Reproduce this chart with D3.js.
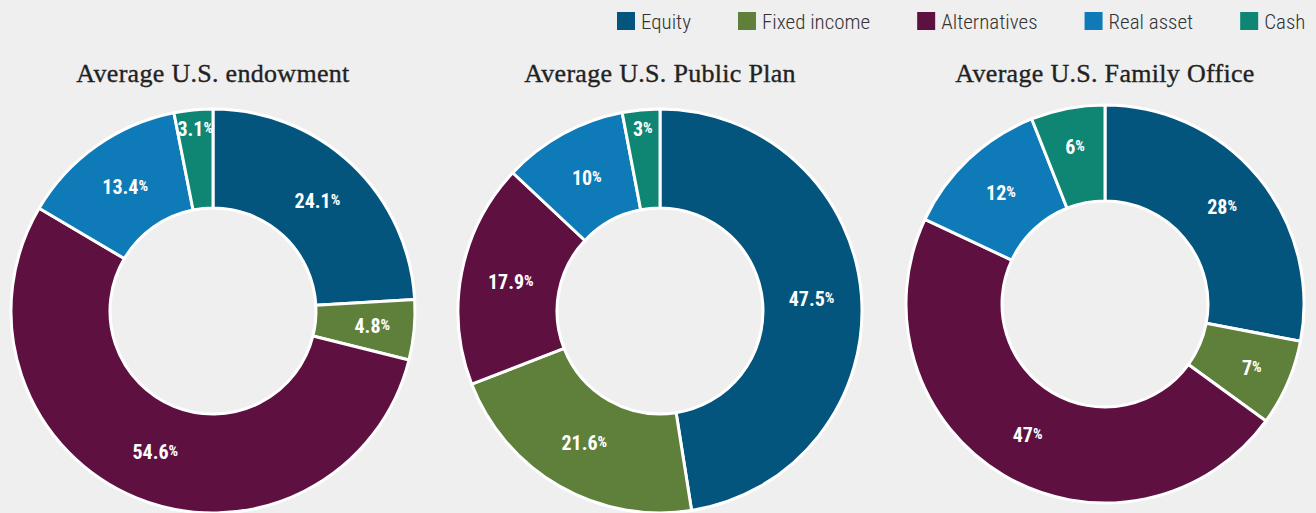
<!DOCTYPE html>
<html lang="en">
<head>
<meta charset="UTF-8">
<title>Average asset allocation</title>
<script src="https://d3js.org/d3.v7.min.js"></script>
<style>
    body {
        margin: 0;
        padding: 0;
        background: #efefef;
        overflow: hidden;
    }
    .legend-text {
        font-family: Roboto, sans-serif;
        font-weight: 300;
        font-stretch: condensed;
        font-size: 21px;
        fill: #333;
    }
    .title {
        font-family: "Liberation Serif", serif;
        font-size: 26px;
        fill: #222;
        stroke: #222;
        stroke-width: 0.35px;
        letter-spacing: 0.3px;
    }
    .pct {
        font-family: Roboto, sans-serif;
        font-weight: 700;
        font-stretch: condensed;
        font-size: 20px;
        fill: #fff;
    }
</style>
</head>
<body>
<div id="chart"></div>
<script>
    // 数据
    const categories = ["Equity", "Fixed income", "Alternatives", "Real asset", "Cash"];
    const colors = ["#03557d", "#5f803b", "#5e1041", "#0e7bb8", "#0f8574"];
    const titles = ["Average U.S. endowment", "Average U.S. Public Plan", "Average U.S. Family Office"];
    const endowment = [24.1, 4.8, 54.6, 13.4, 3.1];
    const publicPlan = [47.5, 21.6, 17.9, 10, 3];
    const familyOffice = [28, 7, 47, 12, 6];

    const width = 1316, height = 513;

    // 每个环形图的位置和大小
    const layout = [
        { cx: 213, cy: 311, r: 202 },
        { cx: 660, cy: 311, r: 202 },
        { cx: 1105, cy: 304, r: 199 }
    ];
    const innerR = 103;

    const svg = d3.select("#chart").append("svg")
        .attr("width", width)
        .attr("height", height);

    const color = d3.scaleOrdinal().domain(categories).range(colors);

    const pie = d3.pie().sort(null).value(d => d.value);

    [endowment, publicPlan, familyOffice].forEach((vals, i) => {
        const L = layout[i];
        const data = categories.map((c, j) => ({ cat: c, value: vals[j] }));
        const arc = d3.arc().innerRadius(innerR).outerRadius(L.r);

        const g = svg.append("g").attr("transform", `translate(${L.cx},${L.cy})`);

        g.selectAll("path")
            .data(pie(data))
            .join("path")
            .attr("d", arc)
            .attr("fill", d => color(d.data.cat))
            .attr("stroke", "#fff")
            .attr("stroke-width", 3)
            .attr("stroke-linejoin", "round");

        // 标签，小扇区往外放
        const lbl = g.selectAll("text.pct")
            .data(pie(data))
            .join("text")
            .attr("class", "pct")
            .attr("text-anchor", "middle")
            .attr("transform", d => {
                const v = d.data.value;
                const lr = v <= 3.1 ? 183 : (v <= 7 ? 160 : 152);
                const a = (d.startAngle + d.endAngle) / 2;
                return `translate(${Math.sin(a) * lr},${-Math.cos(a) * lr + 7})`;
            });
        lbl.append("tspan").text(d => d.data.value);
        lbl.append("tspan")
            .attr("font-size", 15)
            .attr("dy", -3)
            .text("%");

        svg.append("text")
            .attr("class", "title")
            .attr("x", L.cx)
            .attr("y", 82)
            .attr("text-anchor", "middle")
            .text(titles[i]);
    });

    // 图例
    const legend = svg.append("g");
    let x = 617;
    categories.forEach(c => {
        legend.append("rect")
            .attr("x", x).attr("y", 12)
            .attr("width", 18).attr("height", 18)
            .attr("fill", color(c));
        const t = legend.append("text")
            .attr("class", "legend-text")
            .attr("x", x + 24)
            .attr("y", 29)
            .text(c);
        x += 24 + t.node().getComputedTextLength() + 47;
    });
</script>
</body>
</html>
